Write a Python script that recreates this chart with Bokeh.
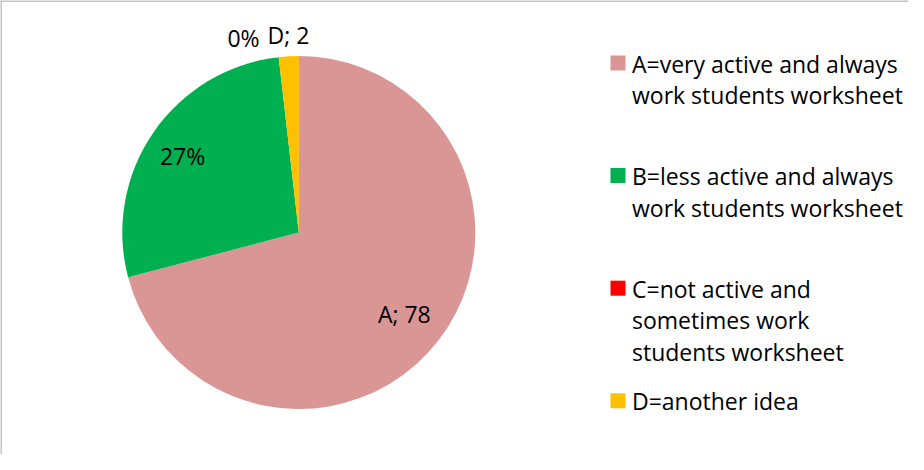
import math
from bokeh.plotting import figure
from bokeh.models import Range1d, Span
from bokeh.core.properties import value
from bokeh.embed import file_html
from bokeh.resources import INLINE

# ---- data ----
categories = ["A", "B", "C", "D"]
counts = [78, 30, 0, 2]
colors = ["#D99694", "#00B050", "#FF0000", "#FFC000"]
slice_labels = ["A; 78", "27%", "0%", "D; 2"]
legend_labels = [
    "A=very active and always\nwork students worksheet",
    "B=less active and always\nwork students worksheet",
    "C=not active and\nsometimes work\nstudents worksheet",
    "D=another idea",
]

# ---- layout ----
W, H = 908, 454
FONT = "Open Sans"
FS = "23px"

p = figure(width=W, height=H, output_backend="svg", toolbar_location=None,
           x_range=Range1d(0, W), y_range=Range1d(0, H),
           x_axis_location=None, y_axis_location=None, min_border=0)
p.grid.visible = False
p.outline_line_color = None
p.background_fill_color = "white"
p.border_fill_color = "white"

# chart frame (left + top edges visible)
p.add_layout(Span(location=0.5, dimension="height", line_color="#888888", line_width=1))
p.add_layout(Span(location=H - 0.5, dimension="width", line_color="#888888", line_width=1))

cx, cy, R = 298.3, 222.0, 176.5
total = sum(counts)
starts, ends, mids = [], [], []
cum = 0.0
for c in counts:
    a0 = math.pi / 2 - cum / total * 2 * math.pi
    cum += c
    a1 = math.pi / 2 - cum / total * 2 * math.pi
    starts.append(a0)
    ends.append(a1)
    mids.append((a0 + a1) / 2)

nz = [i for i, c in enumerate(counts) if c > 0]
p.wedge(x=[cx] * len(nz), y=[cy] * len(nz), radius=R,
        start_angle=[starts[i] for i in nz], end_angle=[ends[i] for i in nz],
        direction="clock", fill_color=[colors[i] for i in nz], line_color=None)

# data labels
label_r = [0.755, 0.77, 1.11, 1.12]
label_dx = [0, -4, -33, 1]
lx, ly = [], []
for i in range(len(counts)):
    r = label_r[i] * R
    lx.append(cx + r * math.cos(mids[i]) + label_dx[i])
    ly.append(cy + r * math.sin(mids[i]))
p.text(x=lx, y=ly, text=slice_labels, text_font=value(FONT), text_font_size=FS,
       text_align="center", text_baseline="middle", text_color="black")

# legend
sq_x = 617.5
txt_x = 631.5
first_mid = 462 - 71
entry_step = 112.6
line_step = 31.7
tx, ty, tt = [], [], []
sqx, sqy = [], []
for i, lab in enumerate(legend_labels):
    mid = first_mid - i * entry_step
    sqx.append(sq_x)
    sqy.append(mid + 0.5)
    for j, line in enumerate(lab.split("\n")):
        tx.append(txt_x)
        ty.append(mid - j * line_step)
        tt.append(line)
p.rect(x=sqx, y=sqy, width=15, height=15, fill_color=colors, line_color=None)
p.text(x=tx, y=ty, text=tt, text_font=value(FONT), text_font_size=FS,
       text_align="left", text_baseline="middle", text_color="black")

open("out.html", "w").write(file_html(p, INLINE))
